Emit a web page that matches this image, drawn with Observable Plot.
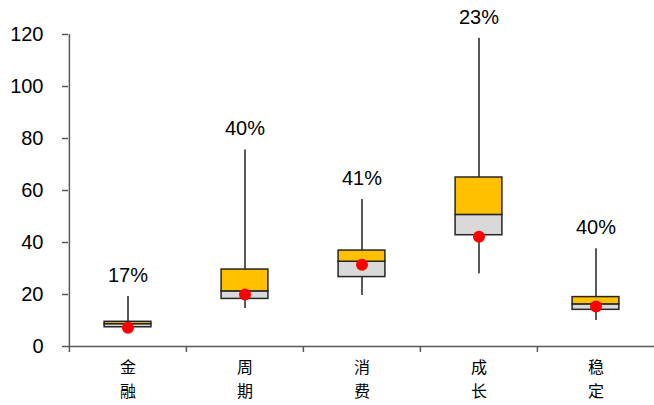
<!DOCTYPE html>
<html>
<head>
<meta charset="utf-8">
<script src="https://cdn.jsdelivr.net/npm/d3@7"></script>
<script src="https://cdn.jsdelivr.net/npm/@observablehq/plot@0.6"></script>
<style>
  html, body { margin: 0; padding: 0; background: #fff; }
  svg { display: block; }
</style>
</head>
<body>
<div id="chart"></div>
<script>
const categories = ["金融", "周期", "消费", "成长", "稳定"];
const pctLabels = ["17%", "40%", "41%", "23%", "40%"];
const minV = [6.8, 14.6, 19.6, 28.0, 10.0];
const q1V = [7.4, 18.3, 26.7, 42.8, 14.1];
const medV = [8.6, 21.2, 32.6, 50.6, 16.2];
const q3V = [9.5, 29.6, 36.9, 65.0, 19.0];
const maxV = [19.2, 75.6, 56.5, 118.6, 37.6];
const curV = [7.2, 20.0, 31.4, 42.2, 15.4];
const yTicks = [0, 20, 40, 60, 80, 100, 120];

const data = categories.map((c, i) => ({
  cat: c, pct: pctLabels[i], min: minV[i], q1: q1V[i], med: medV[i],
  q3: q3V[i], max: maxV[i], cur: curV[i]
}));

const W = 654, H = 405, mL = 68, mR = 0, mT = 34, mB = 59;
const bw = (W - mL - mR) / categories.length;
const inset = (bw - 47) / 2;
const font = "Liberation Sans, Arial, sans-serif";

const chart = Plot.plot({
  width: W, height: H,
  marginLeft: mL, marginRight: mR, marginTop: mT, marginBottom: mB,
  style: { fontFamily: font, background: "#fff", color: "#000" },
  x: { type: "band", domain: categories, padding: 0 },
  y: { domain: [0, 120] },
  marks: [
    // y axis
    Plot.axisY({ ticks: yTicks, tickSize: 6, tickPadding: 19, fontSize: 20, stroke: "#595959", strokeWidth: 1.5, fill: "#000", label: null }),
    Plot.ruleX([categories[0]], { y1: 0, y2: 120, dx: -bw / 2, stroke: "#595959", strokeWidth: 1.5 }),
    // x axis line and boundary ticks
    Plot.ruleY([0], { stroke: "#595959", strokeWidth: 1.5 }),
    Plot.axisX({ tickSize: 6, dx: -bw / 2, tickFormat: () => "", stroke: "#595959", strokeWidth: 1.5, label: null }),
    Plot.axisX({
      tickSize: 0, tickPadding: 9, label: null,
      tickFormat: d => d.split("").join("\n"),
      fontSize: 16, lineHeight: 1.5,
      fontFamily: "Noto Sans CJK SC", fill: "#000"
    }),
    // whiskers
    Plot.ruleX(data, { x: "cat", y1: "min", y2: "max", stroke: "#595959", strokeWidth: 2 }),
    // boxes
    Plot.barY(data, { x: "cat", y1: "q1", y2: "med", fill: "#D9D9D9", stroke: "#262626", strokeWidth: 1.5, insetLeft: inset, insetRight: inset }),
    Plot.barY(data, { x: "cat", y1: "med", y2: "q3", fill: "#FFC000", stroke: "#262626", strokeWidth: 1.5, insetLeft: inset, insetRight: inset }),
    // current value
    Plot.dot(data, { x: "cat", y: "cur", r: 6, fill: "#FF0000", stroke: "none" }),
    // percentage labels
    Plot.text(data, { x: "cat", y: "max", text: "pct", dy: -21, fontSize: 20, fill: "#000", lineAnchor: "middle", fontFamily: font })
  ]
});

document.getElementById("chart").appendChild(chart);
</script>
</body>
</html>
